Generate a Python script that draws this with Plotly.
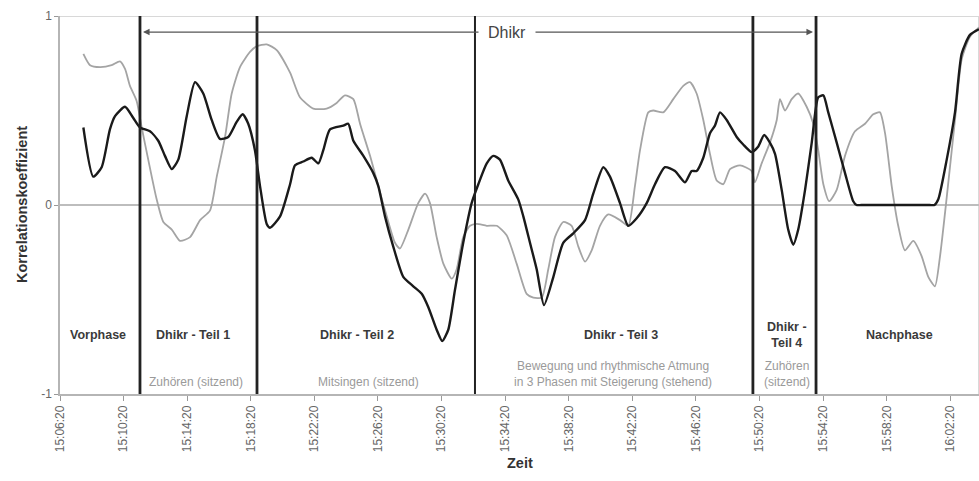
import plotly.graph_objects as go

# Time axis: minutes after 15:06:20
tick_labels = ["15:06:20", "15:10:20", "15:14:20", "15:18:20", "15:22:20",
               "15:26:20", "15:30:20", "15:34:20", "15:38:20", "15:42:20",
               "15:46:20", "15:50:20", "15:54:20", "15:58:20", "16:02:20"]
tick_step_min = 4

# Correlation series 1 (black)
black_t = [1.47, 2.09, 2.62, 3.14, 3.46, 4.09, 4.61, 5.03, 5.66, 6.18, 6.60, 7.03,
           7.44, 7.97, 8.49, 9.01, 9.54, 10.06, 10.58, 11.11, 11.49, 11.84, 12.26,
           12.58, 13.00, 13.21, 13.84, 14.47, 14.78, 15.30, 15.83, 16.25, 16.56,
           16.98, 17.82, 18.13, 18.45, 19.08, 19.70, 20.02, 20.44, 20.96, 21.59,
           22.22, 22.75, 23.16, 23.69, 24.04, 24.42, 24.84, 25.36, 25.89, 26.31,
           26.84, 27.25, 27.67, 28.19, 28.82, 29.14, 29.56, 29.98, 30.44, 31.03,
           31.65, 32.28, 33.02, 33.54, 34.17, 34.59, 35.22, 35.74, 36.27, 36.90,
           37.42, 38.05, 38.68, 39.31, 39.73, 40.04, 40.46, 40.88, 41.19, 41.51,
           41.93, 42.56, 42.97, 43.50, 43.92, 44.28, 44.65, 44.97, 45.39, 45.80,
           46.12, 46.43, 46.86, 47.28, 47.69, 48.01, 48.32, 48.85, 49.37, 49.89,
           50.10, 50.40, 52.50, 54.70, 55.00, 55.24, 55.77, 56.29, 56.71, 57.23,
           57.80]
black_r = [0.41, 0.15, 0.20, 0.40, 0.47, 0.52, 0.46, 0.41, 0.39, 0.34, 0.26, 0.19,
           0.24, 0.47, 0.65, 0.59, 0.45, 0.35, 0.36, 0.44, 0.48, 0.43, 0.29,
           0.10, -0.10, -0.12, -0.06, 0.11, 0.21, 0.23, 0.25, 0.22, 0.29,
           0.40, 0.42, 0.43, 0.34, 0.26, 0.17, 0.10, -0.06, -0.22, -0.38,
           -0.43, -0.47, -0.54, -0.66, -0.72, -0.66, -0.45, -0.20, 0.01, 0.11,
           0.22, 0.26, 0.24, 0.13, 0.03, -0.06, -0.20, -0.34, -0.53, -0.38,
           -0.20, -0.15, -0.08, 0.06, 0.20, 0.15, 0.01, -0.11, -0.07, 0.01,
           0.11, 0.20, 0.18, 0.12, 0.18, 0.18, 0.25, 0.38, 0.42, 0.49,
           0.45, 0.36, 0.32, 0.28, 0.31, 0.37, 0.33, 0.27, 0.08, -0.13,
           -0.21, -0.13, 0.08, 0.33, 0.57, 0.58, 0.49, 0.33, 0.17, 0.02,
           0.00, 0.00, 0.00, 0.00, 0.00, 0.03, 0.24, 0.49, 0.80, 0.90,
           0.93]

# Correlation series 2 (grey)
gray_t = [1.47, 1.89, 2.52, 3.25, 3.77, 4.09, 4.40, 4.82, 5.14, 5.55, 6.08, 6.50,
          7.03, 7.55, 8.18, 8.81, 9.43, 9.86, 10.38, 10.80, 11.32, 11.95, 12.37,
          13.00, 13.63, 14.47, 15.09, 15.93, 16.77, 17.40, 17.92, 18.45, 18.87,
          19.50, 20.02, 20.55, 21.07, 21.38, 21.91, 22.53, 22.96, 23.27, 23.69,
          24.11, 24.64, 24.95, 25.36, 25.79, 26.21, 26.84, 27.47, 28.09, 28.72,
          29.35, 29.77, 30.30, 30.71, 31.13, 31.65, 32.18, 32.60, 33.02, 33.44,
          33.96, 34.48, 35.22, 35.74, 36.16, 36.48, 37.00, 37.31, 37.94, 38.57,
          39.20, 39.62, 40.04, 40.46, 40.88, 41.30, 41.72, 42.14, 42.77, 43.50,
          43.71, 44.13, 44.65, 45.08, 45.28, 45.60, 46.02, 46.43, 46.96, 47.38,
          47.69, 48.01, 48.38, 48.85, 49.37, 50.00, 50.63, 51.15, 51.57, 51.89,
          52.31, 52.72, 53.14, 53.67, 54.19, 54.61, 55.03, 55.35, 55.77, 56.29,
          56.71, 57.23, 57.80]
gray_r = [0.80, 0.74, 0.73, 0.74, 0.76, 0.72, 0.63, 0.55, 0.41, 0.24, 0.03, -0.09,
          -0.13, -0.19, -0.17, -0.08, -0.03, 0.15, 0.36, 0.59, 0.73, 0.81, 0.84,
          0.85, 0.82, 0.70, 0.57, 0.51, 0.51, 0.54, 0.58, 0.56, 0.43,
          0.26, 0.10, -0.06, -0.20, -0.23, -0.13, 0.01, 0.06, 0.01, -0.17,
          -0.31, -0.39, -0.34, -0.17, -0.11, -0.10, -0.11, -0.11, -0.16, -0.31,
          -0.47, -0.49, -0.49, -0.34, -0.17, -0.09, -0.11, -0.22, -0.30, -0.24,
          -0.11, -0.05, -0.08, -0.11, 0.10, 0.29, 0.49, 0.50, 0.49, 0.56,
          0.63, 0.65, 0.59, 0.45, 0.27, 0.13, 0.11, 0.19, 0.21, 0.18,
          0.12, 0.22, 0.33, 0.45, 0.56, 0.50, 0.56, 0.59, 0.52, 0.43,
          0.29, 0.11, 0.02, 0.08, 0.26, 0.39, 0.43, 0.48, 0.49, 0.38,
          0.10, -0.11, -0.24, -0.19, -0.27, -0.38, -0.43, -0.27, 0.04, 0.45,
          0.77, 0.89, 0.94]

# Phase boundaries (minutes after 15:06:20)
phase_bounds = [5.03, 12.39, 26.10, 43.58, 47.55]
phase_titles = ["Vorphase", "Dhikr - Teil 1", "Dhikr - Teil 2", "Dhikr - Teil 3",
                "Dhikr -<br>Teil 4", "Nachphase"]
phase_title_t = [2.39, 8.37, 18.7, 35.3, 45.7, 52.8]
phase_notes = ["", "Zuhören (sitzend)", "Mitsingen (sitzend)",
               "Bewegung und rhythmische Atmung<br>in 3 Phasen mit Steigerung (stehend)",
               "Zuhören<br>(sitzend)", ""]
phase_note_t = [2.39, 8.55, 19.4, 34.8, 45.7, 52.8]

FONT = "Liberation Sans, Arial, sans-serif"
x_max = 57.8

fig = go.Figure()

fig.add_trace(go.Scatter(x=gray_t, y=gray_r, mode="lines",
                         line=dict(color="#a4a4a4", width=1.8, shape="spline", smoothing=0.6),
                         showlegend=False, hoverinfo="skip"))
fig.add_trace(go.Scatter(x=black_t, y=black_r, mode="lines",
                         line=dict(color="#1a1a1a", width=2.4, shape="spline", smoothing=0.6),
                         showlegend=False, hoverinfo="skip"))

shapes = []
# reference lines at r = 1 and r = 0
shapes.append(dict(type="line", xref="x", yref="y", x0=0, x1=x_max, y0=1, y1=1,
                   line=dict(color="#d8d8d8", width=2), layer="below"))
shapes.append(dict(type="line", xref="x", yref="y", x0=0, x1=x_max, y0=0, y1=0,
                   line=dict(color="#bdbdbd", width=2.2), layer="below"))
# right border
shapes.append(dict(type="line", xref="paper", yref="y", x0=1, x1=1, y0=-1, y1=1,
                   line=dict(color="#cccccc", width=1.5), layer="below"))
# phase separators
for i, b in enumerate(phase_bounds):
    shapes.append(dict(type="line", xref="x", yref="y", x0=b, x1=b, y0=-1, y1=1,
                       line=dict(color="#222222", width=2.0 if i == 2 else 2.8),
                       layer="above"))

annotations = []
dhikr_y = 0.915
dhikr_mid = 28.1
for end in (phase_bounds[0], phase_bounds[-1]):
    annotations.append(dict(x=end, y=dhikr_y, ax=dhikr_mid, ay=dhikr_y,
                            xref="x", yref="y", axref="x", ayref="y",
                            text="", showarrow=True, arrowhead=2, arrowsize=1.1,
                            arrowwidth=1.2, arrowcolor="#555555", standoff=3))
annotations.append(dict(x=dhikr_mid, y=dhikr_y, xref="x", yref="y", text="Dhikr",
                        showarrow=False, bgcolor="white", width=52, borderpad=2,
                        font=dict(family=FONT, size=16, color="#444444")))

for t, s in zip(phase_title_t, phase_titles):
    annotations.append(dict(x=t, y=-0.69, xref="x", yref="y", text=f"<b>{s}</b>",
                            showarrow=False,
                            font=dict(family=FONT, size=12.5, color="#3a3a3a")))
for t, s in zip(phase_note_t, phase_notes):
    if not s:
        continue
    annotations.append(dict(x=t, y=-0.985, xref="x", yref="y", text=s,
                            showarrow=False, yanchor="bottom",
                            font=dict(family=FONT, size=12, color="#9a9a9a")))

annotations.append(dict(x=0, y=0.5, xref="paper", yref="paper", xshift=-48,
                        text="<b>Korrelationskoeffizient</b>", textangle=-90,
                        showarrow=False,
                        font=dict(family=FONT, size=14.5, color="#333333")))
annotations.append(dict(x=0.5, y=0, xref="paper", yref="paper", yshift=-79,
                        text="<b>Zeit</b>", showarrow=False,
                        font=dict(family=FONT, size=14.5, color="#333333")))

fig.update_layout(
    width=979, height=481,
    margin=dict(l=60, r=0, t=16, b=87),
    paper_bgcolor="white", plot_bgcolor="white",
    shapes=shapes, annotations=annotations,
    xaxis=dict(range=[0, x_max], showgrid=False, zeroline=False,
               tickvals=[i * tick_step_min for i in range(len(tick_labels))],
               ticktext=tick_labels, tickangle=-90, ticks="outside", ticklen=5,
               tickcolor="#999999", showline=True, linecolor="#b5b5b5", linewidth=1.5,
               tickfont=dict(family=FONT, size=12, color="#666666")),
    yaxis=dict(range=[-1, 1], showgrid=False, zeroline=False,
               tickvals=[-1, 0, 1], ticktext=["-1", "0", "1"], ticks="outside",
               ticklen=4, tickcolor="#999999", showline=True, linecolor="#b5b5b5",
               linewidth=1.5, tickfont=dict(family=FONT, size=12, color="#666666")),
)

fig.write_html("out.html")
